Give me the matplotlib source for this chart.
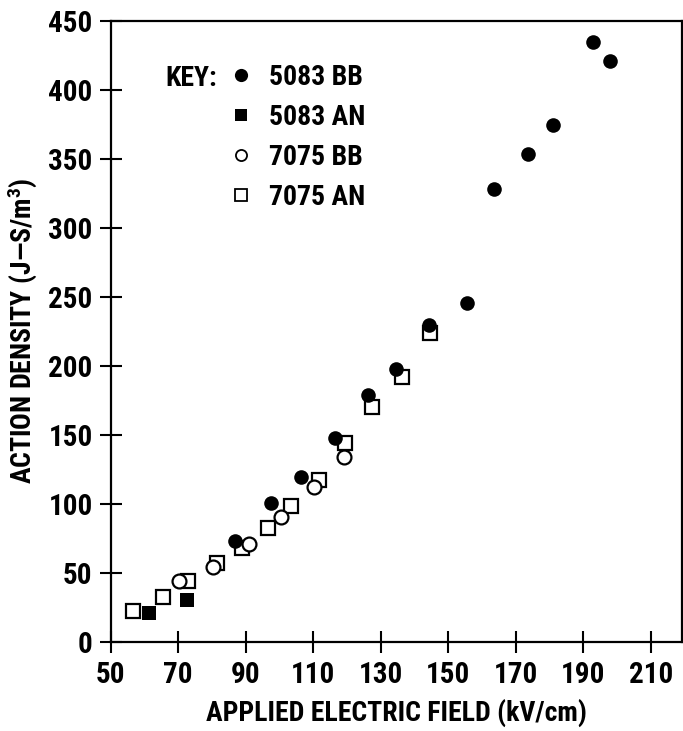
import matplotlib
matplotlib.use('Agg')
import matplotlib.pyplot as plt
from matplotlib.lines import Line2D

# ------------------------------------------------------------
# Data (kV/cm, J-S/m^3)
# ------------------------------------------------------------
bb5083_x = [86.8, 97.4, 106.5, 116.5, 126.1, 134.4, 144.3, 155.5, 163.7, 173.6, 181.0, 192.8, 197.9]
bb5083_y = [73.0, 100.7, 119.1, 147.8, 178.8, 197.4, 229.5, 245.2, 327.8, 353.4, 374.4, 434.8, 420.8]

an5083_x = [61.4, 72.5]
an5083_y = [21.0, 30.2]

bb7075_x = [70.3, 80.4, 91.1, 100.4, 110.3, 119.2]
bb7075_y = [44.0, 54.3, 70.8, 90.6, 112.3, 134.1]

an7075_x = [56.7, 65.6, 73.0, 81.6, 88.8, 96.5, 103.3, 111.7, 119.4, 127.3, 136.4, 144.6]
an7075_y = [22.5, 32.6, 44.2, 56.8, 68.1, 82.2, 98.3, 117.2, 143.8, 170.3, 192.0, 223.5]

x_ticks = [50, 70, 90, 110, 130, 150, 170, 190, 210]
y_ticks = [0, 50, 100, 150, 200, 250, 300, 350, 400, 450]

series_labels = ['5083 BB', '5083 AN', '7075 BB', '7075 AN']

# ------------------------------------------------------------
# Style
# ------------------------------------------------------------
plt.rcParams['font.family'] = ['Roboto Condensed', 'DejaVu Sans']
plt.rcParams['font.weight'] = 'bold'
plt.rcParams['mathtext.fontset'] = 'custom'
plt.rcParams['mathtext.bf'] = 'Roboto Condensed:bold'
plt.rcParams['mathtext.rm'] = 'Roboto Condensed:bold'
plt.rcParams['mathtext.default'] = 'bf'
FS = 20
FS_TICK = 21

fig = plt.figure(figsize=(6.83, 7.31), dpi=100)
ax = fig.add_axes([110.7 / 683, (731 - 641.7) / 731,
                   571.0 / 683, 621.0 / 731])

ms = 10.5
mew = 1.6

ax.plot(bb5083_x, bb5083_y, 'o', color='black', ms=ms, mew=0, zorder=4)
ax.plot(an5083_x, an5083_y, 's', color='black', ms=ms - 1, mew=0, zorder=4)
ax.plot(bb7075_x, bb7075_y, 'o', mfc='white', mec='black', ms=ms - 0.5, mew=mew, zorder=3)
ax.plot(an7075_x, an7075_y, 's', mfc='white', mec='black', ms=ms - 1, mew=mew, zorder=2)

ax.set_xlim(50, 219.2)
ax.set_ylim(0, 450)
ax.set_xticks(x_ticks)
ax.set_yticks(y_ticks)
ax.tick_params(direction='inout', length=16, width=1.5, labelsize=FS_TICK)
ax.tick_params(axis='x', pad=6)
ax.tick_params(axis='y', pad=5)

for s in ax.spines.values():
    s.set_linewidth(1.6)

ax.set_xlabel('APPLIED ELECTRIC FIELD (kV/cm)', fontsize=FS, fontweight='bold', labelpad=7)
ax.set_ylabel('ACTION DENSITY (J\u2014S/m$^{3}$)', fontsize=FS, fontweight='bold', labelpad=7)

# ------------------------------------------------------------
# Key
# ------------------------------------------------------------
handles = [
    Line2D([], [], ls='', marker='o', color='black', ms=9.5, mew=0),
    Line2D([], [], ls='', marker='s', color='black', ms=8.5, mew=0),
    Line2D([], [], ls='', marker='o', mfc='white', mec='black', ms=8, mew=1.3),
    Line2D([], [], ls='', marker='s', mfc='white', mec='black', ms=8, mew=1.3),
]
leg = ax.legend(handles, series_labels, loc='upper left',
                bbox_to_anchor=(230 / 683, 1 - 64 / 731), bbox_transform=fig.transFigure,
                frameon=False, fontsize=FS, handlelength=0.8, handletextpad=0.6,
                labelspacing=0.47, borderpad=0, borderaxespad=0)
fig.text(165 / 683, 1 - 78 / 731, 'KEY:', fontsize=FS, fontweight='bold',
         ha='left', va='center')

fig.savefig('out.png', dpi=100)
